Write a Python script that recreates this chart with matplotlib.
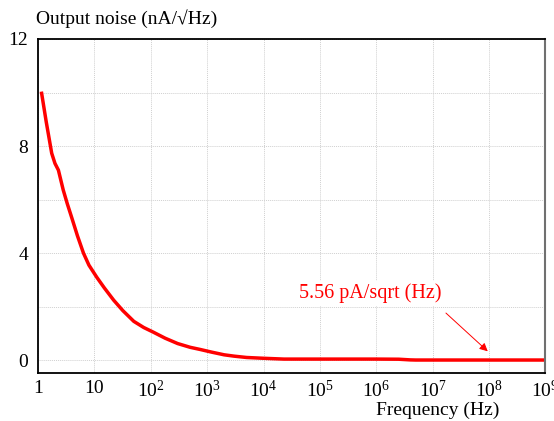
import matplotlib
matplotlib.use("Agg")
import matplotlib.pyplot as plt
import numpy as np

plt.rcParams['font.family'] = ['Liberation Serif', 'DejaVu Serif']
plt.rcParams['mathtext.fontset'] = 'custom'
plt.rcParams['mathtext.rm'] = 'Liberation Serif'
plt.rcParams['mathtext.it'] = 'Liberation Serif:italic'

# output noise spectrum (nA/sqrt(Hz)) vs frequency (Hz)
freq = [1.16, 1.4, 1.75, 2.0, 2.3, 2.8, 3.3, 4, 5, 6.4, 8, 11, 15, 22, 32, 50, 75,
        110, 180, 300, 500, 750, 1200, 2000, 3000, 5000, 1e4, 2.3e4, 1e5, 1e6,
        2.5e6, 4e6, 5e6, 1e7, 1e8, 1e9]
noise = [9.97, 8.9, 7.73, 7.35, 7.1, 6.36, 5.85, 5.3, 4.65, 4.0, 3.55, 3.1, 2.7,
         2.24, 1.85, 1.45, 1.22, 1.05, 0.82, 0.62, 0.48, 0.40, 0.30, 0.2, 0.15,
         0.1, 0.07, 0.04, 0.04, 0.04, 0.035, 0.01, 0.005, 0.005, 0.005, 0.005]

xticks = [10**k for k in range(10)]
xticklabels = ['1', '10'] + [r'$\mathrm{10^{%d}}$' % k for k in range(2, 10)]
yticks = [0, 4, 8, 12]

fig = plt.figure(figsize=(5.54, 4.21), dpi=100)
ax = fig.add_axes([0.0686, 0.114, 0.916, 0.7934])

ax.plot(freq, noise, color='#ff0000', lw=2.5, solid_joinstyle='round')

ax.set_xscale('log')
ax.set_xlim(1, 1e9)
ax.set_ylim(-0.48, 12)

ax.set_xticks(xticks)
ax.set_xticklabels(xticklabels)
ax.xaxis.set_minor_locator(matplotlib.ticker.NullLocator())
ax.set_yticks(yticks)
ax.set_yticks([2, 6, 10], minor=True)
ax.tick_params(which='both', length=0, labelsize=14, pad=7)
ax.tick_params(axis='x', pad=5)

ax.grid(True, which='both', color='#d0d0d0', ls=(0, (1, 1)), lw=0.7)
ax.set_axisbelow(True)

for side in ['left', 'bottom', 'top']:
    ax.spines[side].set_color('black')
    ax.spines[side].set_linewidth(1.3)
ax.spines['right'].set_color('#707070')
ax.spines['right'].set_linewidth(1.5)

fig.text(0.065, 0.955, 'Output noise (nA/\u221aHz)', fontsize=14, va='center', ha='left')
ax.set_xlabel('Frequency (Hz)', fontsize=14)
ax.xaxis.set_label_coords(0.787, -0.113)
ax.xaxis.label.set_va('center')

ax.text(7.7e5, 2.5, '5.56 pA/sqrt (Hz)', color='#ff0000', fontsize=14.5,
        ha='center', va='center',
        bbox=dict(facecolor='white', edgecolor='none', pad=2))
ax.annotate('', xy=(1.03e8, 0.26), xytext=(1.58e7, 1.83),
            arrowprops=dict(arrowstyle='-|>', color='#ff0000', lw=0.7,
                            mutation_scale=12))

fig.savefig('out.png', dpi=100)
